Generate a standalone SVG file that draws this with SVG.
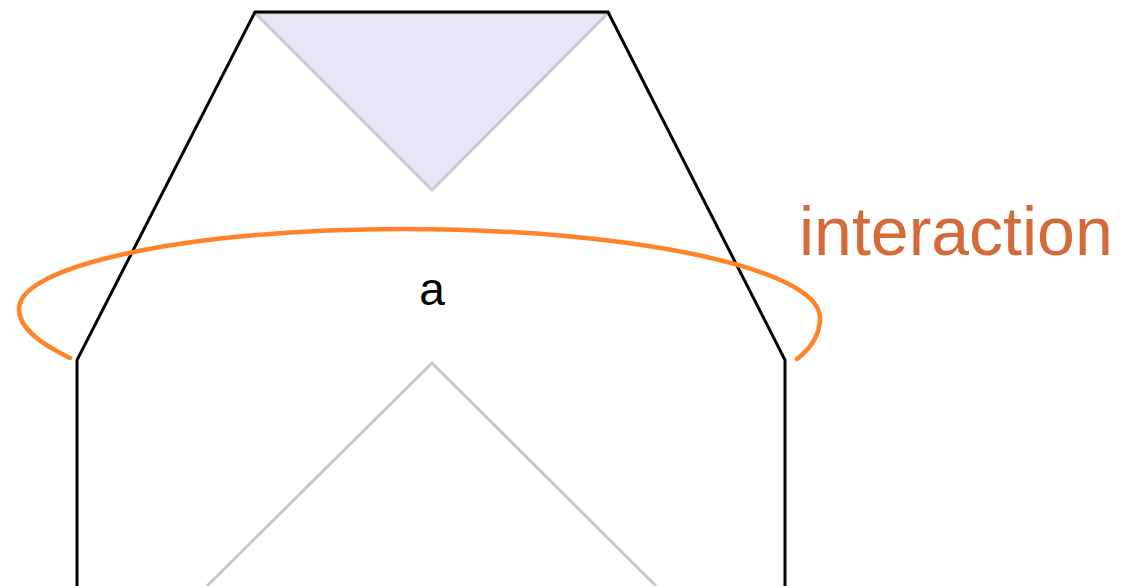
<svg xmlns="http://www.w3.org/2000/svg" width="1121" height="586" viewBox="0 0 1121 586">
  <style>
    .outline { fill: none; stroke: #000000; stroke-width: 3; stroke-linejoin: miter; }
    .gray { stroke: #C8C8C8; stroke-width: 3; stroke-linejoin: miter; }
    .orange { fill: none; stroke: #FF8329; stroke-width: 4.5; stroke-linecap: round; }
    .label { font-family: "Liberation Sans", Arial, sans-serif; }
  </style>
  <rect width="1121" height="586" fill="#FFFFFF"/>
  <g id="upper-triangle">
    <polygon class="gray" points="255,13 608,13 432,190" fill="#EAE6F6"/>
  </g>
  <g id="lower-wedge">
    <polyline class="gray" points="207,586 432,363 656,586" fill="none"/>
  </g>
  <g id="outline">
    <polyline class="outline" points="77,586 77,360 255,12 608,12 785,360 785,586"/>
  </g>
  <g id="interaction-loop">
    <path class="orange" d="M 70 358 C 45 346 19 330 19 309 C 19 264.8 190.9 229 403 229 C 633.3 229 820 268.8 820 318 C 820 335 810 349 797 359"/>
  </g>
  <g id="label-a">
    <text class="label" x="432" y="305" font-size="46" text-anchor="middle" fill="#000000">a</text>
  </g>
  <g id="label-interaction">
    <text class="label" x="799" y="255" font-size="68" fill="#D4693A">interaction</text>
  </g>
</svg>
